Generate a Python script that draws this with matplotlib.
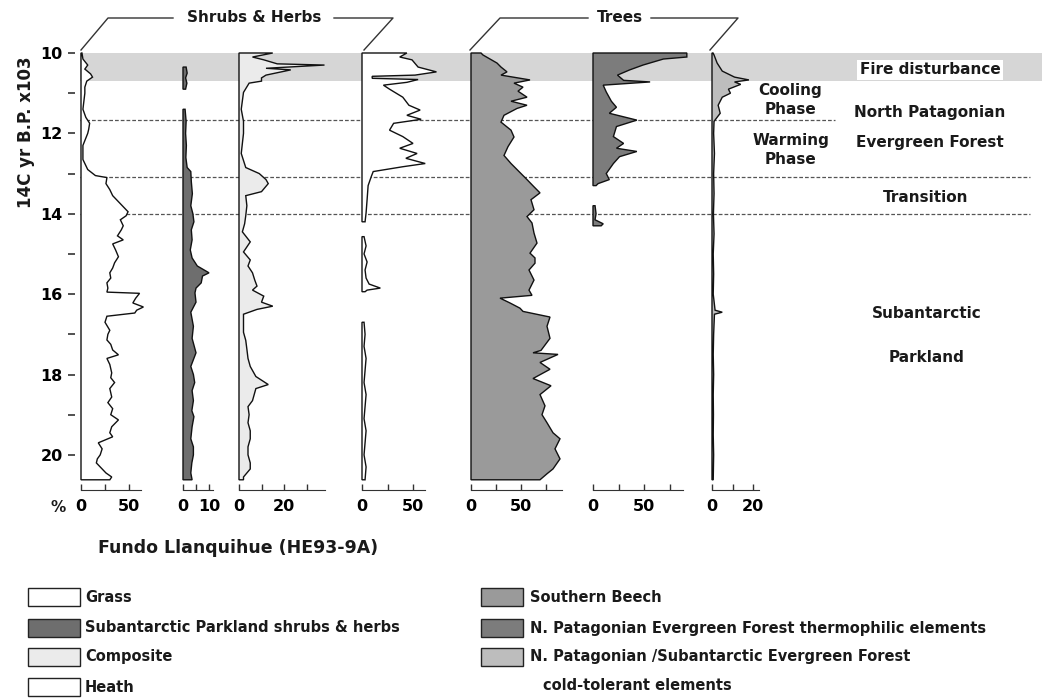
import numpy as np
import matplotlib
matplotlib.use("Agg")
import matplotlib.pyplot as plt
from matplotlib.patches import Rectangle

plt.rcParams['font.family'] = 'DejaVu Sans'
plt.rcParams['font.weight'] = 'bold'

#----------------------------------------------------------- pollen data (age in 14C kyr BP, percent)
grass = [(10.00, 1), (10.15, 2), (10.30, 7), (10.40, 4), (10.52, 10), (10.60, 12), (10.70, 6), (10.85, 4),
         (11.00, 4), (11.20, 3), (11.40, 2), (11.60, 5), (11.75, 9), (11.90, 8), (12.00, 7), (12.30, 2),
         (12.65, 2), (12.90, 7), (13.05, 15), (13.10, 27), (13.25, 26), (13.40, 30), (13.55, 33), (13.65, 37),
         (13.80, 43), (13.95, 49), (14.05, 47), (14.15, 41), (14.30, 44), (14.40, 42), (14.55, 38), (14.65, 44),
         (14.75, 33), (14.90, 36), (15.07, 39), (15.22, 35), (15.35, 33), (15.47, 30), (15.60, 31), (15.72, 27),
         (15.85, 28), (15.95, 27), (15.98, 61), (16.10, 57), (16.22, 54), (16.32, 65), (16.40, 58), (16.47, 56),
         (16.55, 27), (16.70, 25), (16.90, 30), (17.00, 28), (17.14, 27), (17.25, 31), (17.39, 33), (17.51, 39),
         (17.60, 27), (17.75, 30), (17.96, 32), (18.08, 31), (18.20, 35), (18.35, 30), (18.56, 32), (18.70, 28),
         (18.85, 33), (19.00, 31), (19.13, 39), (19.30, 32), (19.45, 30), (19.55, 33), (19.70, 18), (19.85, 22),
         (20.00, 20), (20.10, 17), (20.20, 16), (20.35, 22), (20.45, 26), (20.55, 32), (20.62, 30)]

parkland = [(10.35, 1.2), (10.50, 1.6), (10.62, 1.0), (10.75, 1.5), (10.90, 1.0), (11.15, np.nan),
            (11.40, 0.8), (11.70, 1.2), (12.00, 1.0), (12.30, 1.3), (12.60, 1.1), (12.85, 1.6), (12.95, 3.0),
            (13.20, 3.2), (13.50, 3.6), (13.80, 3.0), (14.00, 3.8), (14.20, 4.2), (14.40, 3.2), (14.65, 3.5),
            (14.90, 2.8), (15.10, 3.5), (15.30, 5.5), (15.47, 10.0), (15.55, 7.5), (15.72, 7.0), (15.85, 5.0),
            (15.97, 4.6), (16.20, 5.0), (16.45, 3.0), (16.80, 4.0), (17.10, 3.5), (17.46, 5.0), (17.80, 3.0),
            (18.00, 4.0), (18.20, 4.5), (18.40, 3.5), (18.65, 4.0), (18.90, 3.4), (19.05, 4.2), (19.30, 3.5),
            (19.60, 3.0), (19.80, 4.0), (20.00, 4.0), (20.20, 3.4), (20.45, 3.0), (20.62, 3.5)]

composite = [(10.00, 15), (10.10, 6), (10.17, 11), (10.27, 17), (10.30, 38), (10.38, 12), (10.42, 23),
             (10.55, 12), (10.62, 10), (10.70, 10), (10.75, 4.5), (10.98, 2), (11.40, 1), (11.70, 2), (12.00, 2),
             (12.50, 1), (12.85, 3), (13.00, 9), (13.15, 12), (13.25, 13), (13.45, 10), (13.55, 3), (13.80, 3.5),
             (14.05, 3), (14.25, 2.5), (14.45, 1.5), (14.70, 5), (14.95, 2), (15.15, 5), (15.30, 4), (15.47, 6),
             (15.65, 7), (15.80, 8), (15.90, 6), (16.05, 11), (16.20, 10), (16.30, 15), (16.38, 8), (16.50, 2),
             (16.95, 2), (17.15, 3), (17.37, 3.5), (17.60, 4), (17.80, 5), (18.05, 7.5), (18.25, 13), (18.35, 7.5),
             (18.65, 6), (18.80, 4), (19.00, 4.5), (19.20, 4), (19.40, 5), (19.60, 5), (19.80, 4), (20.00, 4),
             (20.20, 5), (20.35, 5), (20.55, 2), (20.62, 2)]

heath = [(10.00, 44), (10.10, 37), (10.17, 49), (10.35, 55), (10.47, 73), (10.55, 52), (10.58, 10), (10.63, 10),
         (10.66, 55), (10.73, 44), (10.80, 21), (10.90, 27), (11.10, 40), (11.30, 46), (11.42, 57), (11.55, 44),
         (11.65, 58), (11.75, 31), (11.92, 27), (12.08, 40), (12.25, 50), (12.37, 37), (12.50, 54), (12.62, 43),
         (12.75, 62), (12.83, 40), (12.95, 11), (13.08, 9), (13.30, 6), (13.65, 5), (13.98, 4), (14.20, 3),
         (14.40, np.nan), (14.57, 2), (14.80, 4), (15.00, 2), (15.20, 5), (15.40, 3), (15.60, 4), (15.75, 7),
         (15.85, 18), (15.90, 5), (15.94, 3), (16.30, np.nan), (16.70, 2), (17.00, 3), (17.30, 2), (17.60, 4),
         (17.90, 3), (18.20, 2), (18.50, 4), (18.80, 3), (19.10, 2), (19.40, 4), (19.70, 3), (20.00, 2),
         (20.30, 4), (20.62, 3)]

beech = [(10.00, 10), (10.05, 12), (10.15, 19), (10.25, 26), (10.35, 30), (10.47, 36), (10.55, 30), (10.67, 59),
         (10.75, 43), (10.85, 52), (10.95, 47), (11.10, 56), (11.20, 40), (11.30, 56), (11.38, 46), (11.55, 33),
         (11.72, 30), (11.92, 40), (12.09, 43), (12.33, 37), (12.55, 33), (12.75, 40), (12.90, 46), (13.15, 56),
         (13.33, 63), (13.48, 69), (13.65, 60), (13.90, 63), (14.07, 56), (14.23, 61), (14.48, 63), (14.73, 66),
         (14.98, 59), (15.10, 64), (15.23, 64), (15.40, 58), (15.65, 63), (15.90, 58), (16.03, 61), (16.10, 29),
         (16.22, 39), (16.35, 49), (16.43, 52), (16.57, 79), (16.80, 76), (17.10, 79), (17.40, 70), (17.46, 62),
         (17.50, 87), (17.70, 69), (17.87, 79), (18.10, 62), (18.28, 80), (18.50, 69), (18.78, 74), (19.00, 71),
         (19.20, 76), (19.45, 82), (19.60, 89), (19.85, 84), (20.10, 89), (20.35, 82), (20.47, 76), (20.62, 69)]

thermo = [(10.00, 92), (10.10, 92), (10.15, 69), (10.30, 49), (10.42, 36), (10.55, 24), (10.68, 30), (10.72, 56),
          (10.80, 10), (10.97, 13), (11.20, 18), (11.35, 23), (11.50, 16), (11.67, 43), (11.83, 23), (12.08, 20),
          (12.25, 30), (12.37, 23), (12.45, 43), (12.58, 26), (12.75, 20), (13.00, 13), (13.15, 16), (13.25, 5),
          (13.30, 3), (13.55, np.nan), (13.80, 2), (14.00, 3), (14.15, 2), (14.25, 10), (14.30, 8)]

cold = [(10.00, 0.5), (10.05, 1), (10.25, 2.5), (10.45, 5), (10.60, 11), (10.67, 18), (10.72, 11), (10.78, 14),
        (10.90, 8), (11.00, 9), (11.10, 5), (11.30, 3), (11.50, 4), (11.70, 1), (12.00, 0.8), (12.50, 1.2),
        (13.00, 0.8), (13.50, 1.0), (14.00, 0.7), (14.50, 1.0), (15.00, 0.6), (15.50, 0.8), (16.00, 0.6),
        (16.40, 1.5), (16.45, 5), (16.50, 1.2), (17.00, 0.8), (17.50, 0.6), (18.00, 0.8), (18.50, 0.6),
        (19.00, 0.7), (19.50, 0.6), (20.00, 0.8), (20.62, 0.6)]

zone_lines = [11.67, 13.08, 14.0]
fire_band = (10.0, 10.7)
age_ticks = [10, 12, 14, 16, 18, 20]

legend_left = [("Grass", "white"), ("Subantarctic Parkland shrubs & herbs", "#6e6e6e"),
               ("Composite", "#ebebeb"), ("Heath", "white")]
legend_right = [("Southern Beech", "#9a9a9a"), ("N. Patagonian Evergreen Forest thermophilic elements", "#7c7c7c"),
                ("N. Patagonian /Subantarctic Evergreen Forest", "#bdbdbd")]

#----------------------------------------------------------- layout (pixels)
W, H = 1056, 698
TOP, BOT = 53, 481
YMIN, YMAX = 10.0, 20.65

def fig_rect(x0, y0, w, h):
    return [x0 / W, 1 - (y0 + h) / H, w / W, h / H]

fig = plt.figure(figsize=(W / 100, H / 100), dpi=100)

# background: fire band and zone lines
bg = fig.add_axes(fig_rect(0, TOP, W, BOT - TOP))
bg.set_xlim(0, W)
bg.set_ylim(YMAX, YMIN)
bg.axis('off')
bg.fill_between([80, 1042], fire_band[0], fire_band[1], color='#d6d6d6', lw=0)
dash = (0, (3, 1.6))
bg.plot([80, 835], [zone_lines[0]] * 2, color='#555', lw=0.9, ls=dash)
bg.plot([80, 1030], [zone_lines[1]] * 2, color='#555', lw=0.9, ls=dash)
bg.plot([80, 1030], [zone_lines[2]] * 2, color='#555', lw=0.9, ls=dash)

def draw_series(ax, data, fc):
    ages = np.array([d[0] for d in data], float)
    vals = np.array([d[1] for d in data], float)
    idx = np.flatnonzero(~np.isnan(vals))
    runs = np.split(idx, np.where(np.diff(idx) > 1)[0] + 1)
    for r in runs:
        a, v = ages[r], vals[r]
        xs = np.concatenate([[0], v, [0]])
        ys = np.concatenate([[a[0]], a, [a[-1]]])
        ax.fill(xs, ys, facecolor=fc, edgecolor='#111', lw=1.0, clip_on=False, zorder=3)

# series, fill, left px, px per %, axis end, ticks, tick labels
panels = [
    (grass, 'white', 81, 0.96, 63, [0, 25, 50], ['0', '', '50']),
    (parkland, '#6e6e6e', 183, 2.6, 11.5, [0, 5, 10], ['0', '', '10']),
    (composite, '#ebebeb', 239, 2.25, 38, [0, 10, 20, 30], ['0', '', '20', '']),
    (heath, 'white', 362, 1.02, 62, [0, 25, 50], ['0', '', '50']),
    (beech, '#9a9a9a', 471, 1.0, 91, [0, 25, 50, 75], ['0', '', '50', '']),
    (thermo, '#7c7c7c', 593, 1.02, 88, [0, 25, 50, 75], ['0', '', '50', '']),
    (cold, '#bdbdbd', 712, 2.05, 23, [0, 10, 20], ['0', '', '20']),
]

for i, (data, fc, x0, ppu, xend, ticks, labels) in enumerate(panels):
    view = xend * 1.3
    ax = fig.add_axes(fig_rect(x0, TOP, view * ppu, BOT - TOP))
    ax.set_facecolor('none')
    ax.set_xlim(0, view)
    ax.set_ylim(YMAX, YMIN)
    draw_series(ax, data, fc)
    for s in ['top', 'right']:
        ax.spines[s].set_visible(False)
    ax.spines['bottom'].set_position(('outward', 6.5))
    ax.spines['bottom'].set_bounds(0, xend)
    ax.spines['bottom'].set_color('#333')
    ax.set_xticks(ticks)
    ax.set_xticklabels(labels)
    ax.tick_params(axis='x', direction='in', length=4, width=1, color='#333', pad=6.5, labelsize=11.5)
    if i == 0:
        ax.spines['left'].set_visible(False)
        ax.spines['left'].set_position(('outward', 4.3))
        ax.set_yticks(age_ticks)
        ax.set_yticks([11, 13, 15, 17, 19], minor=True)
        ax.tick_params(axis='y', which='both', direction='out', length=5, width=1.2, color='#333',
                       pad=4, labelsize=11.5)
    else:
        ax.spines['left'].set_visible(False)
        ax.set_yticks([])

#----------------------------------------------------------- annotations (pixel coords)
ov = fig.add_axes([0, 0, 1, 1])
ov.set_xlim(0, W)
ov.set_ylim(H, 0)
ov.axis('off')

txt = dict(ha='center', va='center', fontsize=11, color='#1a1a1a')
lk = dict(color='#333', lw=1)

ov.plot([81, 108, 173], [50, 18, 18], **lk)
ov.plot([334, 393, 364], [18, 18, 50], **lk)
ov.text(254, 18, "Shrubs & Herbs", **txt)
ov.plot([470, 500, 588], [50, 18, 18], **lk)
ov.plot([651, 738, 710], [18, 18, 50], **lk)
ov.text(620, 18, "Trees", **txt)

ov.text(26, 132, "14C yr B.P. x103", rotation=90, ha='center', va='center', fontsize=12, color='#1a1a1a')
ov.text(58, 508, "%", **txt)
ov.text(238, 548, "Fundo Llanquihue (HE93-9A)", ha='center', va='center', fontsize=12.5, color='#1a1a1a')

ov.text(930, 70, "Fire disturbance", bbox=dict(facecolor='white', edgecolor='none', pad=1.5), **txt)
ov.text(790, 100, "Cooling\nPhase", linespacing=1.25, **txt)
ov.text(791, 150, "Warming\nPhase", linespacing=1.25, **txt)
ov.text(930, 112, "North Patagonian", **txt)
ov.text(930, 143, "Evergreen Forest", **txt)
ov.text(926, 198, "Transition", **txt)
ov.text(927, 313, "Subantarctic", **txt)
ov.text(927, 357, "Parkland", **txt)

# legend
rows = [597, 628, 657, 687]
for (label, fc), yc in zip(legend_left, rows):
    ov.add_patch(Rectangle((28, yc - 9), 52, 18, facecolor=fc, edgecolor='#222', lw=1))
    ov.text(85, yc, label, ha='left', va='center', fontsize=10.5, color='#1a1a1a')
for (label, fc), yc in zip(legend_right, rows):
    ov.add_patch(Rectangle((481, yc - 9), 42, 18, facecolor=fc, edgecolor='#222', lw=1))
    ov.text(530, yc, label, ha='left', va='center', fontsize=10.5, color='#1a1a1a')
ov.text(543, 686, "cold-tolerant elements", ha='left', va='center', fontsize=10.5, color='#1a1a1a')

fig.savefig("out.png", dpi=100)
